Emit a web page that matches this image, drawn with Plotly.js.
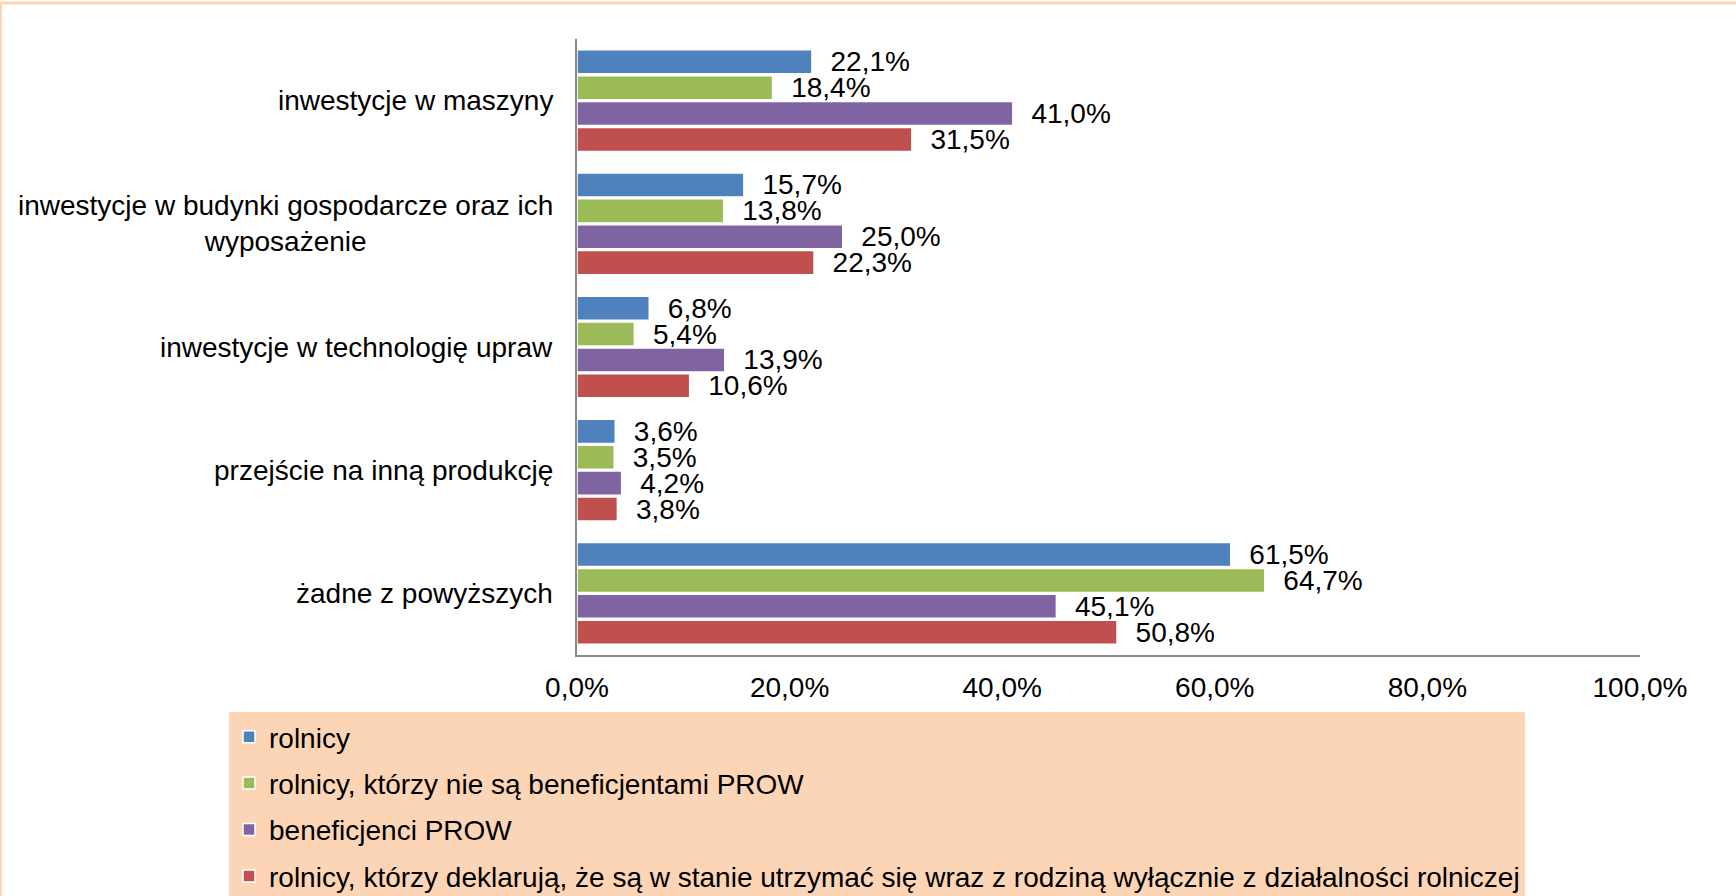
<!DOCTYPE html>
<html>
<head>
<meta charset="utf-8">
<script src="https://cdn.plot.ly/plotly-3.0.1.min.js"></script>
<style>
  html, body { margin: 0; padding: 0; background: #fff; }
  #myDiv { width: 1736px; height: 896px; }
</style>
</head>
<body>
<div id="myDiv"></div>
<script>
// Kategorie (od gory do dolu)
var kategorie = [
    'inwestycje w maszyny',
    'inwestycje w budynki gospodarcze oraz ich<br>wyposażenie',
    'inwestycje w technologię upraw',
    'przejście na inną produkcję',
    'żadne z powyższych'
];

// Serie (w %)
var rolnicy = [22.1, 15.7, 6.8, 3.6, 61.5];
var rolnicyNieBenef = [18.4, 13.8, 5.4, 3.5, 64.7];
var beneficjenci = [41.0, 25.0, 13.9, 4.2, 45.1];
var rolnicyUtrzymanie = [31.5, 22.3, 10.6, 3.8, 50.8];

var nazwy = [
    'rolnicy',
    'rolnicy, którzy nie są beneficjentami PROW',
    'beneficjenci PROW',
    'rolnicy, którzy deklarują, że są w stanie utrzymać się wraz z rodziną wyłącznie z działalności rolniczej'
];
var kolory = ['#4F81BD', '#9BBB59', '#8064A2', '#C0504D'];
var serie = [rolnicy, rolnicyNieBenef, beneficjenci, rolnicyUtrzymanie];

var czcionka = 'Liberation Sans, Arial, sans-serif';
var rozmiar = 28;

// geometria obszaru wykresu (px)
var L = 577, R = 1640, T = 39, B = 655;
function px2x(px) { return (px - L) / (R - L); }
function px2y(py) { return (B - py) / (B - T); }

var data = [];
for (var s = 0; s < serie.length; s++) {
    data.push({
        type: 'bar',
        orientation: 'h',
        name: nazwy[s],
        legendgroup: 'g' + s,
        x: serie[s],
        y: kategorie,
        marker: {
            color: kolory[s],
            line: { color: '#ffffff', width: 1.5 }
        },
        texttemplate: '\u00a0\u00a0%{x:.1f}%',
        textposition: 'outside',
        constraintext: 'none',
        cliponaxis: false,
        textfont: { family: czcionka, size: rozmiar, color: '#000000' },
        hoverinfo: 'none'
    });
}

// etykiety kategorii jako adnotacje (wysrodkowane wieloliniowo)
var adnotacje = [];
for (var k = 0; k < kategorie.length; k++) {
    adnotacje.push({
        xref: 'paper', yref: 'y',
        x: 0, y: kategorie[k],
        xanchor: 'right', yanchor: 'middle',
        xshift: -22,
        align: 'center',
        showarrow: false,
        text: kategorie[k],
        font: { family: czcionka, size: rozmiar, color: '#000000' }
    });
}

var layout = {
    width: 1736,
    height: 896,
    separators: ', ',
    barmode: 'group',
    bargap: 0.16,
    bargroupgap: 0.07,
    paper_bgcolor: '#ffffff',
    plot_bgcolor: '#ffffff',
    font: { family: czcionka, size: rozmiar, color: '#000000' },
    margin: { l: L, r: 1736 - R, t: T, b: 896 - B, pad: 0, autoexpand: false },
    xaxis: {
        range: [0, 100],
        dtick: 20,
        tickformat: '.1f',
        ticksuffix: '%',
        showgrid: false,
        zeroline: false,
        showline: true,
        linecolor: '#8a8a8a',
        linewidth: 2,
        ticks: '',
        ticklabelstandoff: 6,
        tickfont: { family: czcionka, size: rozmiar, color: '#000000' },
        fixedrange: true
    },
    yaxis: {
        autorange: 'reversed',
        showticklabels: false,
        showgrid: false,
        zeroline: false,
        showline: true,
        linecolor: '#8a8a8a',
        linewidth: 2,
        ticks: '',
        fixedrange: true
    },
    annotations: adnotacje,
    showlegend: true,
    legend: {
        x: px2x(229),
        y: px2y(712),
        xanchor: 'left',
        yanchor: 'top',
        orientation: 'v',
        traceorder: 'grouped',
        tracegroupgap: 7,
        bgcolor: '#FBD5B5',
        borderwidth: 0,
        font: { family: czcionka, size: rozmiar, color: '#000000' }
    },
    shapes: [
        // ramka: gorny pasek i lewa linia
        { type: 'line', xref: 'paper', yref: 'paper', layer: 'above',
          x0: px2x(0), x1: px2x(1736), y0: px2y(3), y1: px2y(3),
          line: { color: '#FBD5B5', width: 3 } },
        { type: 'line', xref: 'paper', yref: 'paper', layer: 'above',
          x0: px2x(1), x1: px2x(1), y0: px2y(2), y1: px2y(896),
          line: { color: '#FBD5B5', width: 2 } }
    ]
};

var config = { staticPlot: true, responsive: false };

Plotly.newPlot('myDiv', data, layout, config);
</script>
</body>
</html>
